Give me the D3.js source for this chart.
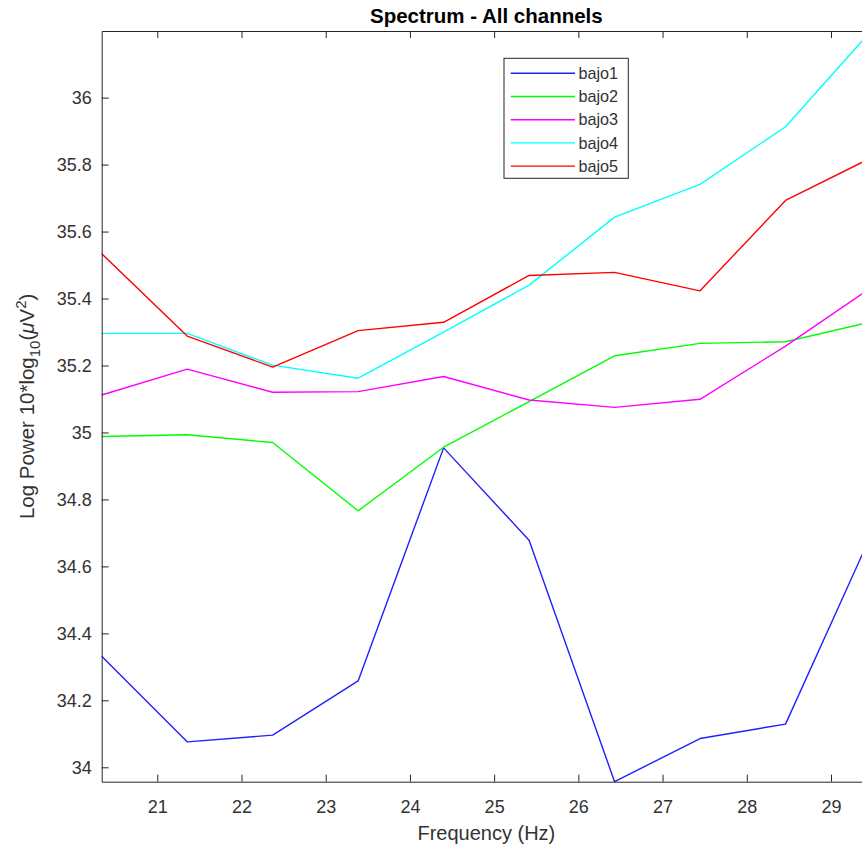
<!DOCTYPE html>
<html>
<head>
<meta charset="utf-8">
<script src="https://d3js.org/d3.v7.min.js"></script>
<style>
  html, body { margin: 0; padding: 0; background: #fff; overflow: hidden; }
  svg { display: block; font-family: "Liberation Sans", Arial, Helvetica, sans-serif; }
  .axis path, .axis line { stroke: #262626; }
  .axis text { fill: #333; font-size: 18px; }
</style>
</head>
<body>
<svg width="862" height="848"></svg>
<script>
// frequencies (Hz) of the spectrum bins
var freqs = [20.34, 21.355, 22.37, 23.385, 24.40, 25.415, 26.43, 27.445, 28.46, 29.475];

// log power per channel
var bajo1 = [34.332, 34.076, 34.096, 34.258, 34.954, 34.678, 33.957, 34.086, 34.129, 34.693];
var bajo2 = [34.988, 34.993, 34.970, 34.766, 34.956, 35.092, 35.229, 35.266, 35.271, 35.330];
var bajo3 = [35.112, 35.189, 35.120, 35.122, 35.167, 35.097, 35.075, 35.099, 35.258, 35.432];
var bajo4 = [35.296, 35.296, 35.201, 35.162, 35.300, 35.440, 35.643, 35.741, 35.913, 36.199];
var bajo5 = [35.534, 35.288, 35.195, 35.304, 35.329, 35.469, 35.478, 35.423, 35.693, 35.820];

var names = ["bajo1", "bajo2", "bajo3", "bajo4", "bajo5"];
var colors = ["#2020ff", "#00ff00", "#ff00ff", "#00ffff", "#ff0000"];
var xTicks = [21, 22, 23, 24, 25, 26, 27, 28, 29];
var yTicks = [34, 34.2, 34.4, 34.6, 34.8, 35, 35.2, 35.4, 35.6, 35.8, 36];

var series = [bajo1, bajo2, bajo3, bajo4, bajo5];

var plotL = 101.7, plotR = 871, plotT = 31, plotB = 781.7;

var svg = d3.select("svg");

var allVals = d3.merge(series);
var x = d3.scaleLinear()
  .domain(d3.extent(freqs))
  .range([plotL, plotR]);
var y = d3.scaleLinear()
  .domain(d3.extent(allVals))
  .range([plotB, plotT]);

// lines
var line = d3.line()
  .x(function (d, i) { return x(freqs[i]); })
  .y(function (d) { return y(d); });

svg.append("g")
  .selectAll("path")
  .data(series)
  .enter()
  .append("path")
  .attr("d", function (d) { return line(d); })
  .attr("fill", "none")
  .attr("stroke", function (d, i) { return colors[i]; })
  .attr("stroke-width", 1.4)
  .attr("stroke-linejoin", "round");

// axes (ticks pointing inward like matlab)
svg.append("g")
  .attr("class", "axis")
  .attr("transform", "translate(0," + plotB + ")")
  .call(d3.axisBottom(x).tickValues(xTicks).tickSizeInner(-7).tickSizeOuter(0).tickPadding(19).tickFormat(d3.format("d")));

svg.append("g")
  .attr("class", "axis")
  .attr("transform", "translate(0," + plotT + ")")
  .call(d3.axisTop(x).tickValues(xTicks).tickSizeInner(-7).tickSizeOuter(0).tickFormat(""));

svg.append("g")
  .attr("class", "axis")
  .attr("transform", "translate(" + plotL + ",0)")
  .call(d3.axisLeft(y).tickValues(yTicks).tickSizeInner(-7).tickSizeOuter(0).tickPadding(10).tickFormat(d3.format("~g")));

// title
svg.append("text")
  .attr("x", (plotL + plotR) / 2)
  .attr("y", 23)
  .attr("text-anchor", "middle")
  .style("font-size", "20.5px")
  .style("font-weight", "bold")
  .attr("fill", "#000")
  .text("Spectrum - All channels");

// x label
svg.append("text")
  .attr("x", (plotL + plotR) / 2)
  .attr("y", 840)
  .attr("text-anchor", "middle")
  .style("font-size", "20px")
  .attr("fill", "#333")
  .text("Frequency (Hz)");

// y label
var yl = svg.append("text")
  .attr("transform", "translate(34," + ((plotT + plotB) / 2) + ") rotate(-90)")
  .attr("text-anchor", "middle")
  .style("font-size", "20.5px")
  .attr("fill", "#333");
yl.append("tspan").text("Log Power 10*log");
yl.append("tspan").attr("dy", 6).style("font-size", "15px").text("10");
yl.append("tspan").attr("dy", -6).text("(");
yl.append("tspan").style("font-style", "italic").text("\u03bc");
yl.append("tspan").text("V");
yl.append("tspan").attr("dy", -8).style("font-size", "15px").text("2");
yl.append("tspan").attr("dy", 8).text(")");

// legend
var lg = svg.append("g");
lg.append("rect")
  .attr("x", 504).attr("y", 58.3)
  .attr("width", 124.3).attr("height", 120)
  .attr("fill", "#fff")
  .attr("stroke", "#262626")
  .attr("stroke-width", 1);

var rows = lg.selectAll("g.row")
  .data(names)
  .enter()
  .append("g")
  .attr("class", "row")
  .attr("transform", function (d, i) { return "translate(0," + (73.3 + i * 23.2) + ")"; });

rows.append("line")
  .attr("x1", 510.7).attr("x2", 575)
  .attr("stroke", function (d, i) { return colors[i]; })
  .attr("stroke-width", 1.4);

rows.append("text")
  .attr("x", 578.5)
  .attr("dy", "0.35em")
  .style("font-size", "16.2px")
  .attr("fill", "#333")
  .text(function (d) { return d; });
</script>
</body>
</html>
